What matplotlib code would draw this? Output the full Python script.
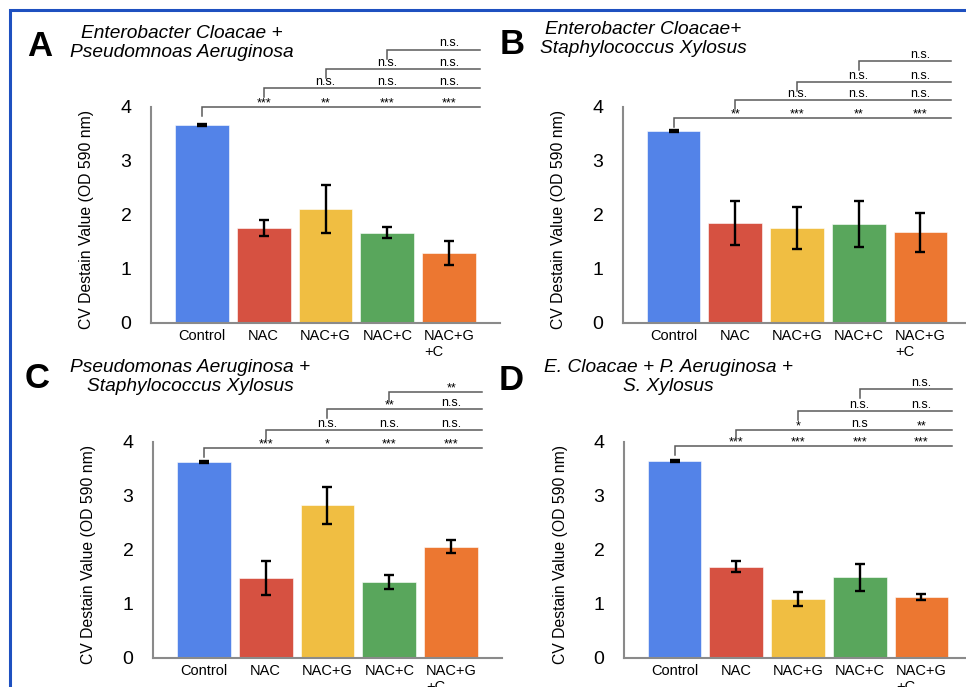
import matplotlib
matplotlib.use("Agg")
import matplotlib.pyplot as plt
from matplotlib.patches import Rectangle

plt.rcParams['font.family'] = ['Liberation Sans', 'DejaVu Sans']

# ---------------- data ----------------
categories = ["Control", "NAC", "NAC+G", "NAC+C", "NAC+G\n+C"]
bar_colors = ["#5383E8", "#D65141", "#F0BE42", "#59A65C", "#EC7731"]

vals_A = [3.67, 1.76, 2.11, 1.67, 1.30]
err_A = [0.02, 0.15, 0.44, 0.10, 0.22]
vals_B = [3.56, 1.85, 1.76, 1.83, 1.68]
err_B = [0.02, 0.41, 0.39, 0.42, 0.36]
vals_C = [3.63, 1.48, 2.83, 1.41, 2.06]
err_C = [0.01, 0.31, 0.34, 0.13, 0.12]
vals_D = [3.65, 1.69, 1.09, 1.50, 1.13]
err_D = [0.02, 0.10, 0.13, 0.25, 0.06]

sig_A = [["***", "**", "***", "***"], ["n.s.", "n.s.", "n.s."], ["n.s.", "n.s."], ["n.s."]]
sig_B = [["**", "***", "**", "***"], ["n.s.", "n.s.", "n.s."], ["n.s.", "n.s."], ["n.s."]]
sig_C = [["***", "*", "***", "***"], ["n.s.", "n.s.", "n.s."], ["**", "n.s."], ["**"]]
sig_D = [["***", "***", "***", "***"], ["*", "n.s", "**"], ["n.s.", "n.s."], ["n.s."]]

titles = [
    "Enterobacter Cloacae +\nPseudomnoas Aeruginosa",
    "Enterobacter Cloacae+\nStaphylococcus Xylosus",
    "Pseudomonas Aeruginosa +\nStaphylococcus Xylosus",
    "E. Cloacae + P. Aeruginosa +\nS. Xylosus",
]
letters = ["A", "B", "C", "D"]
ylabel = "CV Destain Value (OD 590 nm)"
yticks = [0, 1, 2, 3, 4]

# ---------------- layout (pixels) ----------------
W, H = 966, 687
fig = plt.figure(figsize=(W / 100, H / 100), dpi=100)
fig.patch.set_facecolor("white")

# blue frame
fig.patches.append(Rectangle((10 / W, -0.1), 1.2, (H - 10) / H + 0.1, transform=fig.transFigure,
                             fill=False, edgecolor="#1E50C0", linewidth=2.2, zorder=0))

panels = [
    dict(l=151, r=500, y0=323, v=vals_A, e=err_A, s=sig_A, lev=[4.0, 4.35, 4.70, 5.06],
         tc=(182, 43), lp=(40, 46)),
    dict(l=623, r=971, y0=323, v=vals_B, e=err_B, s=sig_B, lev=[3.80, 4.13, 4.46, 4.85],
         tc=(643, 39), lp=(512, 45)),
    dict(l=153, r=502, y0=658, v=vals_C, e=err_C, s=sig_C, lev=[3.89, 4.22, 4.61, 4.93],
         tc=(190, 377), lp=(37, 379)),
    dict(l=624, r=972, y0=658, v=vals_D, e=err_D, s=sig_D, lev=[3.93, 4.22, 4.57, 4.98],
         tc=(668, 377), lp=(511, 381)),
]

ppu = 54.0  # pixels per y unit
for i, p in enumerate(panels):
    ax = fig.add_axes([p["l"] / W, (H - p["y0"]) / H, (p["r"] - p["l"]) / W, (4 * ppu) / H])
    x = list(range(len(categories)))
    ax.bar(x, p["v"], width=0.87, color=bar_colors, edgecolor="white", linewidth=0.4, zorder=2)
    ax.errorbar(x, p["v"], yerr=p["e"], fmt="none", ecolor="black", elinewidth=1.7,
                capsize=3.8, capthick=1.7, zorder=3)
    ax.set_xlim(-0.82, 4.82)
    ax.set_ylim(0, 4)
    ax.set_yticks(yticks)
    ax.set_xticks(x)
    ax.set_xticklabels(categories, multialignment="left")
    ax.tick_params(axis="y", length=0, pad=14, labelsize=14)
    ax.tick_params(axis="x", length=0, pad=4, labelsize=10.5)
    for sp in ["top", "right"]:
        ax.spines[sp].set_visible(False)
    for sp in ["left", "bottom"]:
        ax.spines[sp].set_color("#8A8A8A")
        ax.spines[sp].set_linewidth(1.5)
    ax.patch.set_alpha(0)
    ax.text(-64 / (p["r"] - p["l"]), 0.48, ylabel, transform=ax.transAxes, rotation=90,
            ha="center", va="center", fontsize=11.3)

    # significance brackets
    for k, (lvl, labs) in enumerate(zip(p["lev"], p["s"])):
        ax.plot([k, k, 4.5], [lvl - 0.17, lvl, lvl], color="#5A5A5A", lw=1.1,
                clip_on=False, zorder=4, solid_joinstyle="miter")
        for j, lab in enumerate(labs):
            xi = k + 1 + j
            dy = 0.5 if "*" in lab else 2.5
            ax.annotate(lab, (xi, lvl), xytext=(0, dy), textcoords="offset points",
                        ha="center", va="baseline", fontsize=9, annotation_clip=False)

    # titles and panel letters
    fig.text(p["tc"][0] / W, 1 - p["tc"][1] / H, titles[i], ha="center", va="center",
             fontsize=13.8, style="italic", linespacing=1.2)
    fig.text(p["lp"][0] / W, 1 - p["lp"][1] / H, letters[i], ha="center", va="center",
             fontsize=25, fontweight="bold")

fig.savefig("out.png", dpi=100, facecolor="white")
